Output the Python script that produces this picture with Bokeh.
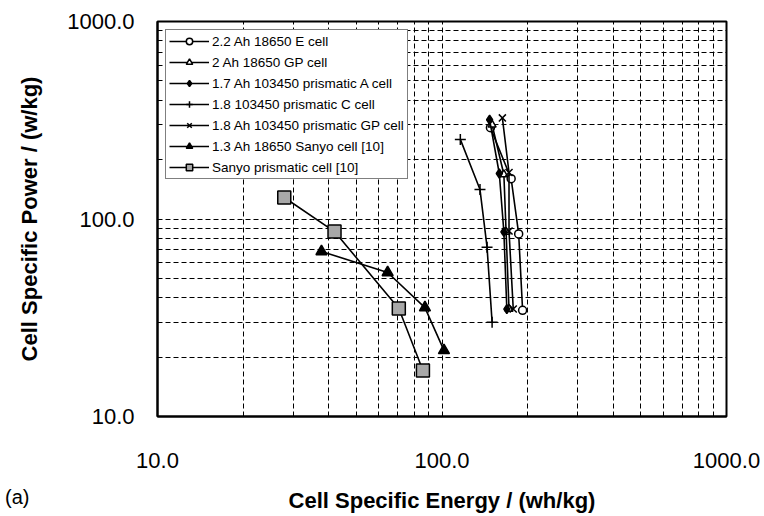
from bokeh.plotting import figure
from bokeh.models import FixedTicker, PrintfTickFormatter, Range1d, Legend, LegendItem, Div
from bokeh.layouts import column
from bokeh.embed import file_html
from bokeh.resources import INLINE

# --- data ---
e_cell_x = [148, 175, 186, 192]
e_cell_y = [290, 160, 84, 34.5]
gp18650_x = [150, 165, 168, 172]
gp18650_y = [300, 168, 86, 35]
a_cell_x = [147, 159, 165, 169]
a_cell_y = [318, 170, 86, 35]
c_cell_x = [116, 136, 144, 150]
c_cell_y = [253, 141, 72, 30]
gp_pris_x = [163, 172, 172, 178]
gp_pris_y = [325, 172, 87, 35]
sanyo18650_x = [37.7, 64.4, 87.1, 101.6]
sanyo18650_y = [68.5, 53.6, 35.6, 21.6]
sanyo_pris_x = [27.9, 41.9, 70.5, 85.7]
sanyo_pris_y = [128.5, 86.4, 35.2, 17.1]

major_ticks = [10, 100, 1000]
minor_ticks = [20, 30, 40, 50, 60, 70, 80, 90, 200, 300, 400, 500, 600, 700, 800, 900]

FONT = "Liberation Sans"

p = figure(width=764, height=516, x_axis_type="log", y_axis_type="log",
           x_range=Range1d(10, 1000), y_range=Range1d(10, 1000),
           output_backend="svg", toolbar_location=None,
           min_border_left=157, min_border_right=38, min_border_top=21, min_border_bottom=100)

p.background_fill_color = "white"
p.border_fill_color = "white"
p.outline_line_color = "black"
p.outline_line_width = 2

ticker = FixedTicker(ticks=major_ticks, minor_ticks=minor_ticks)
for ax in (p.xaxis, p.yaxis):
    ax.ticker = ticker
    ax.formatter = PrintfTickFormatter(format="%.1f")
    ax.major_tick_line_color = None
    ax.minor_tick_line_color = None
    ax.axis_line_color = "black"
    ax.axis_line_width = 2
    ax.major_label_text_font = FONT
    ax.major_label_text_font_size = "22px"
    ax.major_label_text_color = "black"
    ax.axis_label_text_font = FONT
    ax.axis_label_text_font_size = "22px"
    ax.axis_label_text_font_style = "bold"
    ax.axis_label_text_color = "black"

p.xaxis.axis_label = "Cell Specific Energy / (wh/kg)"
p.yaxis.axis_label = "Cell Specific Power / (w/kg)"
p.xaxis.major_label_standoff = 30
p.yaxis.major_label_standoff = 17
p.xaxis.axis_label_standoff = 17
p.yaxis.axis_label_standoff = 22

for g in (p.xgrid, p.ygrid):
    g.ticker = ticker
    g.grid_line_color = "black"
    g.grid_line_dash = "5 3"
    g.grid_line_width = 1
    g.minor_grid_line_color = "black"
    g.minor_grid_line_dash = "5 3"
    g.minor_grid_line_width = 1

series = [
    ("2.2 Ah 18650 E cell", e_cell_x, e_cell_y, dict(marker="circle", size=8, fill_color="white")),
    ("2 Ah 18650 GP cell", gp18650_x, gp18650_y, dict(marker="triangle", size=8, fill_color="white")),
    ("1.7 Ah 103450 prismatic A cell", a_cell_x, a_cell_y, dict(marker="diamond", size=9, fill_color="black")),
    ("1.8 103450 prismatic C cell", c_cell_x, c_cell_y, dict(marker="cross", size=11, fill_color="black")),
    ("1.8 Ah 103450 prismatic GP cell", gp_pris_x, gp_pris_y, dict(marker="x", size=10, fill_color="black")),
    ("1.3 Ah 18650 Sanyo cell [10]", sanyo18650_x, sanyo18650_y, dict(marker="triangle", size=11, fill_color="black")),
    ("Sanyo prismatic cell [10]", sanyo_pris_x, sanyo_pris_y, dict(marker="square", size=13, fill_color="#a8a8a8")),
]

items = []
for name, xs, ys, mk in series:
    r1 = p.line(xs, ys, line_color="black", line_width=1.6)
    r2 = p.scatter(xs, ys, line_color="black", line_width=1.5, **mk)
    items.append(LegendItem(label=name, renderers=[r1, r2]))

legend = Legend(items=items, location="top_left")
legend.margin = 8
legend.padding = 3
legend.spacing = 5
legend.glyph_height = 16
legend.label_height = 16
legend.glyph_width = 40
legend.label_standoff = 3
legend.label_text_font = FONT
legend.label_text_font_size = "13.5px"
legend.label_text_color = "black"
legend.border_line_color = "black"
legend.border_line_width = 1
legend.background_fill_color = "white"
legend.background_fill_alpha = 1
p.add_layout(legend)

tag = Div(text="(a)", width=40, height=34, margin=(-34, 0, 0, 5),
          styles={"font-family": FONT, "font-size": "20px", "line-height": "30px",
                  "color": "black", "z-index": "10"})

layout = column(p, tag, spacing=0)

open("out.html", "w").write(file_html(layout, INLINE))
